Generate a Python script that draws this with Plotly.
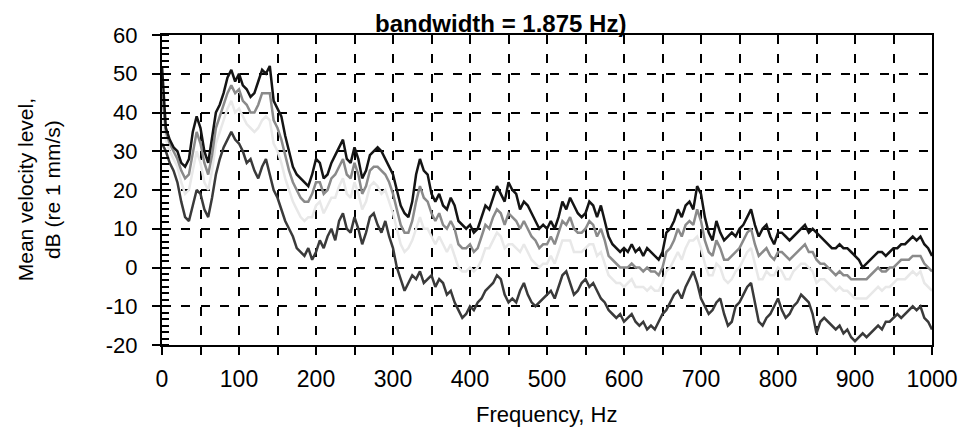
import plotly.graph_objects as go

freq = list(range(0, 1001, 5))

level_max = [52,36,33,31,30,27,26,28,35,39,36,30,27,33,40,42,45,49,51,48,
             50,47,46,44,45,48,51,50,52,43,41,39,34,30,26,24,23,22,21,24,
             28,27,23,24,27,29,31,33,28,27,31,28,23,25,29,30,31,30,28,26,
             24,20,16,14,13,17,24,28,25,24,19,17,19,16,15,18,16,12,11,10,
             11,9,10,13,16,15,18,21,19,17,22,20,19,15,17,16,14,12,10,11,
             10,12,10,13,17,15,18,16,14,13,14,17,16,13,16,12,8,6,5,4,
             5,4,6,4,5,3,5,4,3,2,4,9,10,12,15,13,16,17,15,21,
             19,13,9,7,12,9,7,8,9,8,10,11,13,15,11,8,10,11,8,6,
             9,9,8,7,8,9,10,11,9,10,9,8,7,6,5,5,6,5,5,4,
             3,2,0,1,2,3,4,4,3,4,5,5,6,6,7,8,7,8,6,5,3]

level_upper = [45,35,32,30,28,25,23,24,30,35,32,27,24,29,36,39,42,45,47,45,
               46,43,42,40,40,42,45,45,45,38,36,33,29,25,22,20,18,17,17,19,
               22,22,19,20,23,24,26,28,24,23,27,24,19,21,25,26,26,25,24,22,
               19,15,11,9,9,12,17,21,18,17,14,12,14,11,10,12,10,6,5,5,
               6,4,5,8,11,10,13,15,14,11,14,13,12,10,12,10,8,7,5,6,
               6,8,6,9,12,11,13,10,9,9,10,12,11,8,10,7,3,2,1,0,
               0,0,1,0,0,-1,0,-1,-1,-2,0,4,5,7,10,8,11,12,11,15,
               12,7,4,3,7,5,2,2,3,4,5,7,9,10,6,3,4,5,3,2,
               4,4,3,2,3,4,5,6,4,4,2,1,1,0,-1,-2,-1,-2,-2,-3,
               -3,-3,-3,-3,-2,-1,0,-1,-1,0,0,1,2,2,2,3,3,3,1,0,-1]

level_mean = [38,33,30,28,26,22,19,20,25,30,27,22,20,25,32,35,38,41,43,40,
              41,39,37,36,35,36,38,39,38,32,30,27,23,20,17,15,13,12,13,13,
              16,17,14,16,18,18,21,23,19,18,22,19,15,17,21,22,21,19,20,17,
              14,10,6,4,5,7,10,13,10,10,8,6,8,6,4,6,3,0,-1,-1,
              0,-1,0,2,5,5,7,9,8,5,6,6,5,4,6,4,2,1,0,1,
              1,3,1,4,7,7,7,4,4,4,5,6,6,3,4,1,-2,-3,-4,-4,
              -5,-4,-3,-5,-5,-5,-6,-5,-6,-6,-4,-1,0,2,4,2,5,7,7,8,
              5,1,-2,-2,1,0,-3,-4,-3,-1,0,2,4,5,1,-3,-3,-1,-2,-2,
              0,-1,-3,-3,-1,0,1,1,0,-1,-4,-3,-3,-4,-5,-6,-5,-6,-6,-7,
              -8,-8,-8,-8,-7,-6,-5,-6,-5,-5,-4,-3,-3,-3,-2,-1,-2,-1,-4,-5,-6]

level_min = [32,30,27,25,22,17,13,12,16,20,19,15,13,18,24,28,31,33,35,33,
             32,30,27,28,25,23,26,28,24,20,18,15,12,10,8,5,4,3,5,2,
             4,7,5,8,10,7,12,14,10,9,13,10,6,9,13,14,11,9,12,8,
             5,0,-3,-6,-4,-2,-3,-1,-4,-3,-2,-5,-3,-4,-7,-6,-9,-11,-13,-12,
             -10,-11,-9,-8,-6,-5,-4,-2,-3,-7,-9,-8,-9,-6,-4,-7,-9,-10,-9,-8,
             -7,-6,-8,-5,-2,-1,-4,-7,-6,-4,-3,-5,-4,-6,-8,-9,-11,-12,-13,-12,
             -14,-13,-12,-14,-15,-14,-16,-15,-16,-14,-12,-11,-9,-7,-6,-8,-5,-3,-1,-4,
             -8,-10,-12,-11,-9,-8,-12,-15,-14,-10,-9,-7,-5,-4,-9,-14,-15,-13,-12,-10,
             -8,-11,-13,-12,-10,-9,-7,-8,-9,-12,-17,-14,-13,-14,-15,-16,-15,-17,-16,-18,
             -19,-18,-17,-18,-17,-16,-15,-16,-14,-14,-13,-12,-13,-12,-11,-10,-11,-10,-13,-14,-16]

x_ticks = [0, 100, 200, 300, 400, 500, 600, 700, 800, 900, 1000]
y_ticks = [-20, -10, 0, 10, 20, 30, 40, 50, 60]

FONT = "Liberation Sans, Arial, sans-serif"

# page has an 8px body margin; figure sized so nothing overflows the window
W, H = 960, 422
PL, PR, PT, PB = 154, 924, 26.5, 337  # plot box in figure pixels
PW, PH = PR - PL, PB - PT


def px(xp):
    return (xp - 8 - PL) / PW


def py(yp):
    return (PB - (yp - 8)) / PH


fig = go.Figure()
series = [
    (level_min, "#3a3a3a"),
    (level_mean, "#e8e8e8"),
    (level_upper, "#8a8a8a"),
    (level_max, "#141414"),
]
for vals, col in series:
    fig.add_trace(go.Scatter(x=freq, y=vals, mode="lines",
                             line=dict(color=col, width=2.5), showlegend=False,
                             hoverinfo="skip"))

grid_dash = "9px,10.4px"
fig.update_xaxes(
    range=[0, 1000], tickvals=x_ticks, ticktext=[str(v) for v in x_ticks],
    showgrid=True, gridcolor="black", gridwidth=2, griddash=grid_dash,
    showline=True, linecolor="black", linewidth=2, mirror=True,
    ticks="outside", ticklen=8, tickwidth=2, tickcolor="black",
    minor=dict(dtick=50, tick0=0, showgrid=True, gridcolor="black", gridwidth=2,
               griddash=grid_dash, ticks="outside", ticklen=8, tickwidth=2,
               tickcolor="black"),
    tickfont=dict(family=FONT, size=23, color="black"),
    ticklabelstandoff=4, zeroline=False,
)
fig.update_yaxes(
    range=[-20, 60], tickvals=y_ticks, ticktext=[str(v) for v in y_ticks],
    showgrid=True, gridcolor="black", gridwidth=2, griddash=grid_dash,
    showline=True, linecolor="black", linewidth=2, mirror=True,
    ticks="outside", ticklen=8, tickwidth=2, tickcolor="black",
    minor=dict(dtick=10/6, tick0=0, showgrid=False, ticks="inside", ticklen=7,
               tickwidth=2, tickcolor="black"),
    tickfont=dict(family=FONT, size=22, color="black"),
    ticklabelstandoff=10, zeroline=False,
)

fig.add_annotation(text="<b>bandwidth = 1.875 Hz)</b>", xref="paper", yref="paper",
                   x=px(500), y=py(22.5), xanchor="center", yanchor="middle",
                   showarrow=False, font=dict(family=FONT, size=24, color="black"))
fig.add_annotation(text="Mean velocity level,<br>dB (re 1 mm/s)", xref="paper", yref="paper",
                   x=px(39), y=py(190), xanchor="center", yanchor="middle",
                   textangle=-90, showarrow=False,
                   font=dict(family=FONT, size=21, color="black"))
fig.add_annotation(text="Frequency, Hz", xref="paper", yref="paper",
                   x=px(546), y=py(415), xanchor="center", yanchor="middle",
                   showarrow=False, font=dict(family=FONT, size=22, color="black"))

fig.update_layout(
    width=W, height=H,
    margin=dict(l=PL, r=W - PR, t=PT, b=H - PB, autoexpand=False),
    paper_bgcolor="white", plot_bgcolor="white",
    showlegend=False,
)
fig.write_html("out.html")
